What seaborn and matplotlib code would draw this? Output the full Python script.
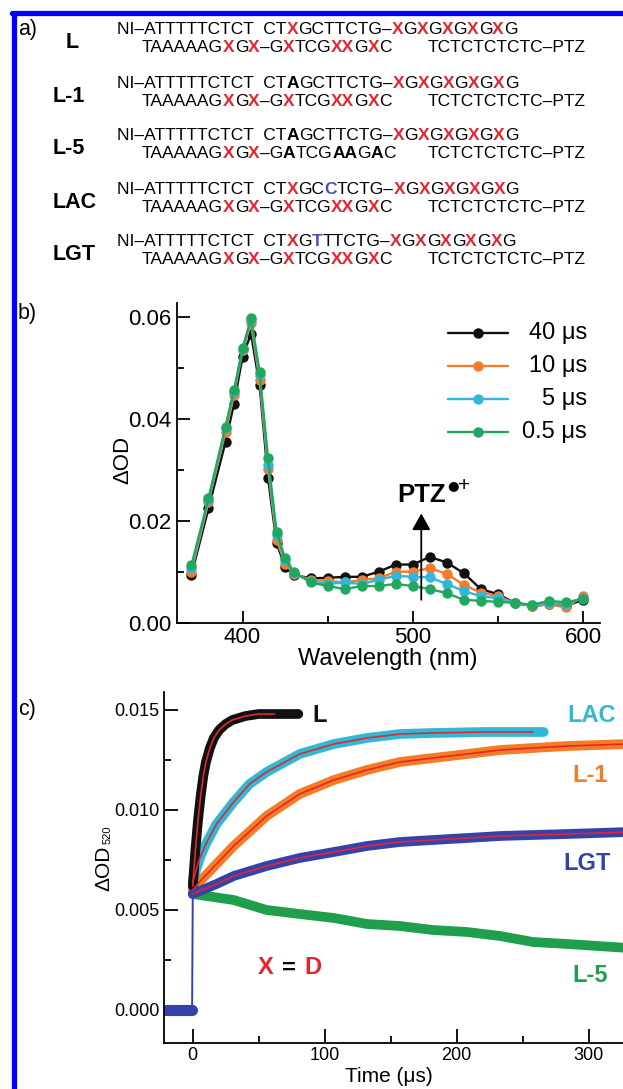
import numpy as np
import pandas as pd
import seaborn as sns
import matplotlib.pyplot as plt
from matplotlib.lines import Line2D
from matplotlib.ticker import MultipleLocator, FormatStrFormatter

sns.set_theme(style="ticks", rc={"axes.edgecolor": "black", "text.color": "black",
                                 "xtick.color": "black", "ytick.color": "black",
                                 "axes.labelcolor": "black"})
plt.rcParams['font.family'] = ['Liberation Sans', 'DejaVu Sans']

RED = "#e3262e"
SEQBLUE = "#4b4bbd"

# ---- panel a: sequences ({A} = bold black, [C] = bold blue, X = red)
strand_labels = ["L", "L-1", "L-5", "LAC", "LGT"]
top_strands = [
    "NI–ATTTTTCTCT  CTXGCTTCTG–XGXGXGXGXG",
    "NI–ATTTTTCTCT  CT{A}GCTTCTG–XGXGXGXGXG",
    "NI–ATTTTTCTCT  CT{A}GCTTCTG–XGXGXGXGXG",
    "NI–ATTTTTCTCT  CTXGC[C]TCTG–XGXGXGXGXG",
    "NI–ATTTTTCTCT  CTXG[T]TTCTG–XGXGXGXGXG",
]
bottom_strands = [
    "TAAAAAGXGX–GXTCGXXGXC  TCTCTCTCTC–PTZ",
    "TAAAAAGXGX–GXTCGXXGXC  TCTCTCTCTC–PTZ",
    "TAAAAAGXGX–G{A}TCG{A}{A}G{A}C  TCTCTCTCTC–PTZ",
    "TAAAAAGXGX–GXTCGXXGXC  TCTCTCTCTC–PTZ",
    "TAAAAAGXGX–GXTCGXXGXC  TCTCTCTCTC–PTZ",
]

# ---- panel b: transient spectra
wavelength = [370, 380, 390, 395, 400, 405, 410, 415, 420, 425, 430, 440, 450, 460,
              470, 480, 490, 500, 510, 520, 530, 540, 550, 560, 570, 580, 590, 600]
od_40us = [0.0095, 0.0225, 0.0355, 0.0430, 0.0522, 0.0567, 0.0466, 0.0284, 0.0157, 0.0111,
           0.0095, 0.0088, 0.0089, 0.0091, 0.0091, 0.0101, 0.0115, 0.0115, 0.0130, 0.0119,
           0.0098, 0.0067, 0.0057, 0.0040, 0.0034, 0.0037, 0.0034, 0.0046]
od_10us = [0.0101, 0.0238, 0.0375, 0.0447, 0.0535, 0.0587, 0.0476, 0.0303, 0.0163, 0.0117,
           0.0097, 0.0085, 0.0083, 0.0080, 0.0085, 0.0088, 0.0101, 0.0101, 0.0108, 0.0097,
           0.0075, 0.0060, 0.0053, 0.0040, 0.0034, 0.0037, 0.0031, 0.0053]
od_5us = [0.0108, 0.0241, 0.0382, 0.0453, 0.0536, 0.0593, 0.0486, 0.0310, 0.0173, 0.0124,
          0.0099, 0.0082, 0.0077, 0.0080, 0.0077, 0.0085, 0.0093, 0.0091, 0.0090, 0.0077,
          0.0063, 0.0053, 0.0049, 0.0040, 0.0036, 0.0039, 0.0038, 0.0049]
od_05us = [0.0114, 0.0245, 0.0385, 0.0457, 0.0538, 0.0597, 0.0492, 0.0323, 0.0179, 0.0127,
           0.0101, 0.0080, 0.0073, 0.0067, 0.0073, 0.0073, 0.0077, 0.0073, 0.0067, 0.0059,
           0.0046, 0.0044, 0.0042, 0.0040, 0.0036, 0.0044, 0.0041, 0.0048]
delays = ["40 μs", "10 μs", "5 μs", "0.5 μs"]
delay_colors = ["#111111", "#f47b2b", "#33b6d8", "#22a85e"]

pre_t = [-20, -10, -0.5]
pre_od = [0.0, 0.0, 0.0]
L_t = [0, 2, 4, 6, 8, 10, 13, 16, 20, 25, 30, 40, 50, 62]
L_od = [0.0062, 0.0080, 0.0095, 0.0107, 0.0117, 0.0124, 0.0131, 0.0136, 0.0140, 0.0143,
        0.0145, 0.0147, 0.0148, 0.0148]
L_tail_t, L_tail_od = [70, 80], [0.0148, 0.0148]
LAC_t = [0, 3, 6, 10, 18, 31, 43, 56, 81, 107, 132, 157, 182, 220, 258]
LAC_od = [0.0064, 0.0071, 0.0077, 0.0083, 0.0093, 0.0104, 0.0113, 0.0119, 0.0128, 0.0133,
          0.0136, 0.0138, 0.01385, 0.0139, 0.0139]
LAC_tail_t, LAC_tail_od = [266], [0.0139]
L1_t = [0, 5, 18, 31, 56, 81, 107, 132, 157, 182, 208, 233, 258, 284, 330]
L1_od = [0.0060, 0.0064, 0.0073, 0.0082, 0.0097, 0.0108, 0.0115, 0.0120, 0.0124, 0.0126,
         0.0128, 0.0130, 0.0131, 0.0132, 0.0133]
LGT_t = [0, 18, 31, 56, 81, 107, 132, 157, 182, 208, 233, 258, 284, 330]
LGT_od = [0.0058, 0.0063, 0.0067, 0.0072, 0.0076, 0.0079, 0.0082, 0.0084, 0.0085, 0.0086,
          0.0087, 0.00875, 0.0088, 0.0089]
L5_t = [0, 31, 56, 81, 107, 132, 157, 182, 208, 233, 258, 284, 330]
L5_od = [0.0058, 0.0055, 0.0050, 0.0048, 0.0046, 0.0043, 0.0042, 0.0040, 0.0039, 0.0037,
         0.0034, 0.0033, 0.0031]
trace_colors = {"L": "#111111", "LAC": "#2fb9d4", "L-1": "#f57c22", "LGT": "#3343ab", "L-5": "#1f9e4c"}

W, H = 623, 1089
fig = plt.figure(figsize=(W / 100, H / 100), dpi=100)

# full-figure pixel axes for panel a text and the frame
axa = fig.add_axes([0, 0, 1, 1])
axa.set_xlim(0, W)
axa.set_ylim(H, 0)
axa.axis("off")
axa.add_line(Line2D([13.5, 13.5], [H, 12.5], color="#0000ff", lw=3.8))
axa.add_line(Line2D([11.5, W], [12.5, 12.5], color="#0000ff", lw=3.8))


def parse(s):
    out = []
    i = 0
    while i < len(s):
        c = s[i]
        if c == "{":
            item = (s[i + 1], "black", True); i += 3
        elif c == "[":
            item = (s[i + 1], SEQBLUE, True); i += 3
        elif c == "X":
            item = ("X", RED, True); i += 1
        else:
            item = (c, "black", False); i += 1
        if out and out[-1][1] == item[1] and out[-1][2] == item[2]:
            out[-1][0] += item[0]
        else:
            out.append([item[0], item[1], item[2]])
    return out


def write_chain(ax, x, y, pieces, size, gap=0.0):
    prev = None
    for txt, col, bold in pieces:
        kw = dict(fontsize=size, color=col, fontweight="bold" if bold else "normal",
                  va="bottom", ha="left")
        if prev is None:
            prev = ax.text(x, y, txt, **kw)
        else:
            prev = ax.annotate(txt, xy=(1, 0), xycoords=prev, xytext=(gap, 0),
                               textcoords="offset points", **kw)
    return prev


axa.text(18, 30, "a)", fontsize=15.5, va="center", ha="left")
axa.text(18, 313, "b)", fontsize=15.5, va="center", ha="left")
axa.text(18, 709, "c)", fontsize=15.5, va="center", ha="left")

row1 = [27, 81, 134, 187, 239]
for k, lab in enumerate(strand_labels):
    y1 = row1[k]
    write_chain(axa, 117, y1 + 9.5, parse(top_strands[k]), 12.5)
    left, right = bottom_strands[k].split("  ")
    write_chain(axa, 142, y1 + 27.5, parse(left), 12.5)
    write_chain(axa, 428, y1 + 27.5, parse(right), 12.5, gap=0.6)
    axa.text(66 if lab == "L" else 53, y1 + 15, lab, fontsize=15.5, fontweight="bold",
             va="center", ha="left")

# ---- panel b
axb = fig.add_axes([177 / W, 1 - 623.3 / H, 423 / W, 320.3 / H])
axb.patch.set_alpha(0)
spec = pd.DataFrame({"wl": wavelength * 4,
                     "od": od_40us + od_10us + od_5us + od_05us,
                     "delay": np.repeat(delays, len(wavelength))})
sns.lineplot(data=spec, x="wl", y="od", hue="delay", hue_order=delays,
             palette=delay_colors, marker="o", markersize=7.5, markeredgewidth=0,
             linewidth=1.7, legend=False, ax=axb)
axb.set_xlim(361.5, 610)
axb.set_ylim(0, 0.0627)
sns.despine(ax=axb)
axb.xaxis.set_major_locator(MultipleLocator(100))
axb.xaxis.set_minor_locator(MultipleLocator(50))
axb.yaxis.set_major_locator(MultipleLocator(0.02))
axb.yaxis.set_minor_locator(MultipleLocator(0.01))
axb.yaxis.set_major_formatter(FormatStrFormatter("%.2f"))
axb.tick_params(which="both", direction="in", width=1.3, labelsize=16, pad=4)
axb.tick_params(axis="x", pad=3)
axb.tick_params(which="major", length=9)
axb.tick_params(which="minor", length=5)
for s in ["left", "bottom"]:
    axb.spines[s].set_linewidth(1.3)
axb.set_xlabel("Wavelength (nm)", fontsize=17)
axb.set_ylabel("ΔOD", fontsize=16)
axb.xaxis.set_label_coords(0.499, -0.078)
axb.yaxis.set_label_coords(-0.104, 0.51)

# legend with right-aligned labels
leg_y = [0.906, 0.803, 0.700, 0.597]
for lab, col, yy in zip(delays, delay_colors, leg_y):
    axb.add_line(Line2D([0.641, 0.783], [yy, yy], transform=axb.transAxes, color=col, lw=1.7))
    axb.add_line(Line2D([0.712], [yy], transform=axb.transAxes, color=col, marker="o",
                        markersize=7.5, markeredgewidth=0))
    axb.text(0.969, yy, lab, transform=axb.transAxes, fontsize=17, ha="right", va="center")

axb.annotate("", xy=(505, 0.0215), xytext=(505, 0.0046),
             arrowprops=dict(arrowstyle="-|>,head_length=0.5,head_width=0.28",
                             color="black", lw=1.3, mutation_scale=20, shrinkA=0, shrinkB=0))
ptz = axb.text(491, 0.0228, "PTZ", fontsize=18.5, fontweight="bold", va="bottom", ha="left")
dot = axb.annotate("●", xy=(1, 0.62), xycoords=ptz, xytext=(0.5, 0), textcoords="offset points",
                   fontsize=9.5, va="bottom", ha="left", family=["DejaVu Sans"])
axb.annotate("+", xy=(1, 0.0), xycoords=dot, xytext=(-0.5, -2), textcoords="offset points",
             fontsize=15, va="bottom", ha="left")

# ---- panel c
axc = fig.add_axes([164 / W, 1 - 1043 / H, 459 / W, 351 / H])
axc.patch.set_alpha(0)


def frame(t, od):
    return pd.DataFrame({"t": t, "od": od})


band = 7
sns.lineplot(data=frame(L5_t, L5_od), x="t", y="od", color=trace_colors["L-5"], lw=band, ax=axc)
sns.lineplot(data=frame(L1_t, L1_od), x="t", y="od", color=trace_colors["L-1"], lw=band, ax=axc)
sns.lineplot(data=frame(LAC_t + LAC_tail_t, LAC_od + LAC_tail_od), x="t", y="od",
             color=trace_colors["LAC"], lw=band, ax=axc)
sns.lineplot(data=frame(L_t + L_tail_t, L_od + L_tail_od), x="t", y="od",
             color=trace_colors["L"], lw=band, ax=axc)
sns.lineplot(data=frame(LGT_t, LGT_od), x="t", y="od", color=trace_colors["LGT"], lw=band, ax=axc)
sns.lineplot(data=frame(pre_t, pre_od), x="t", y="od", color=trace_colors["LGT"], lw=8, ax=axc)
sns.lineplot(data=frame([pre_t[-1], LGT_t[0]], [pre_od[-1], LGT_od[0]]), x="t", y="od",
             color=trace_colors["LGT"], lw=1.4, ax=axc)
for tt, oo in [(L_t, L_od), (LAC_t, LAC_od), (L1_t, L1_od), (LGT_t, LGT_od)]:
    sns.lineplot(data=frame(tt, oo), x="t", y="od", color=RED, lw=1.2, ax=axc)

axc.set_xlim(-21.8, 326.1)
axc.set_ylim(-0.00165, 0.0159)
sns.despine(ax=axc)
axc.xaxis.set_major_locator(MultipleLocator(100))
axc.xaxis.set_minor_locator(MultipleLocator(50))
axc.yaxis.set_major_locator(MultipleLocator(0.005))
axc.yaxis.set_minor_locator(MultipleLocator(0.0025))
axc.yaxis.set_major_formatter(FormatStrFormatter("%.3f"))
axc.tick_params(which="both", direction="in", width=1.3, labelsize=13, pad=3)
axc.tick_params(which="major", length=10)
axc.tick_params(which="minor", length=5)
for s in ["left", "bottom"]:
    axc.spines[s].set_linewidth(1.3)
axc.set_xlabel("Time (μs)", fontsize=15)
axc.set_ylabel("")
axc.xaxis.set_label_coords(0.49, -0.068)
axa.text(104, 868, "ΔOD", fontsize=15, rotation=90, ha="center", va="center")
axa.text(108, 835, "520", fontsize=8, rotation=90, ha="center", va="center")

lab_kw = dict(fontsize=17, fontweight="bold", va="center", ha="left")
axc.text(91, 0.0147, "L", color=trace_colors["L"], **lab_kw)
axc.text(283.6, 0.0147, "LAC", color=trace_colors["LAC"], **lab_kw)
axc.text(287.5, 0.0117, "L-1", color=trace_colors["L-1"], **lab_kw)
axc.text(280.7, 0.0073, "LGT", color=trace_colors["LGT"], **lab_kw)
axc.text(287.5, 0.0017, "L-5", color=trace_colors["L-5"], **lab_kw)
xd = axc.text(49.5, 0.0021, "X", color=RED, **lab_kw)
eq = axc.annotate("=", xy=(1, 0.5), xycoords=xd, xytext=(6, 0), textcoords="offset points",
                  fontsize=17, fontweight="bold", va="center", ha="left", color="black")
axc.annotate("D", xy=(1, 0.5), xycoords=eq, xytext=(6, 0), textcoords="offset points",
             fontsize=17, fontweight="bold", va="center", ha="left", color=RED)

fig.savefig("out.png", dpi=100, facecolor="white")
